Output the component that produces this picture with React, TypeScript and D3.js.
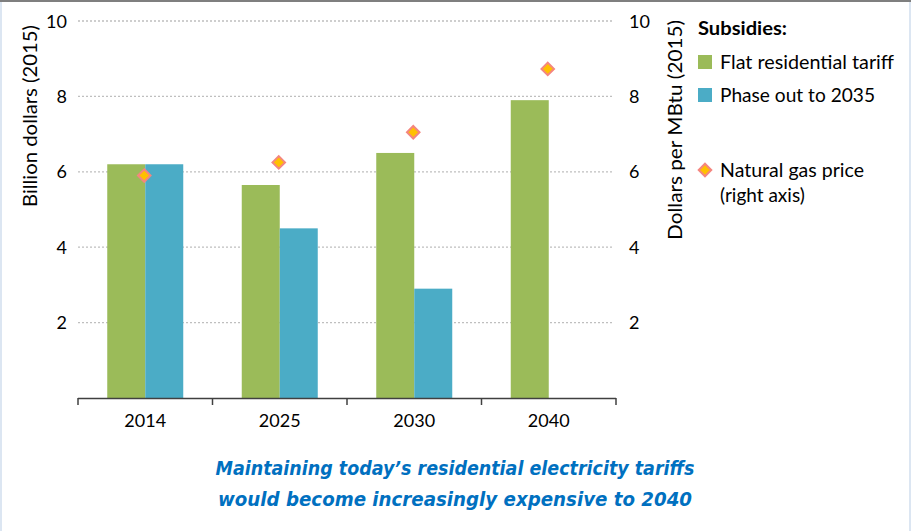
import React from "react";
import * as d3 from "d3";

const categories = ["2014", "2025", "2030", "2040"];
const flatTariff = [6.2, 5.65, 6.5, 7.9];
const phaseOut: (number | null)[] = [6.2, 4.5, 2.9, null];
const gasPrice = [5.9, 6.25, 7.05, 8.73];
const leftTicks = [2, 4, 6, 8, 10];
const rightTicks = [2, 4, 6, 8, 10];
const captionLines = [
  "Maintaining today\u2019s residential electricity tariffs",
  "would become increasingly expensive to 2040",
];

const W = 911;
const H = 531;
const GREEN = "#9bbb59";
const BLUE = "#4bacc6";
const FONT = "Lato, 'Open Sans', sans-serif";

export default function App() {
  const x = d3.scaleBand<string>().domain(categories).range([78, 616]).paddingInner(0).paddingOuter(0);
  const yL = d3.scaleLinear().domain([0, 10]).range([398, 21]);
  const yR = d3.scaleLinear().domain([0, 10]).range([398, 21]);
  const barW = 38;
  const diamond = d3.symbol().type(d3.symbolDiamond2).size(100)();

  return (
    <svg width={W} height={H} style={{ position: "absolute", left: 0, top: 0, background: "#fff" }}>
      <rect x={0} y={0} width={W} height={H} fill="#fff" />
      <rect x={0} y={0} width={2} height={H} fill="#dce6f2" />
      <rect x={W - 2} y={0} width={2} height={H} fill="#dce6f2" />
      <rect x={0} y={0} width={W} height={2} fill="#7f7f7f" />

      {/* gridlines */}
      {leftTicks.map((t) => (
        <line key={"g" + t} x1={78} x2={614} y1={yL(t)} y2={yL(t)} stroke="#bfbfbf" strokeWidth={1.3} strokeDasharray="2,2" />
      ))}

      {/* bars */}
      {categories.map((c, i) => {
        const cx = (x(c) as number) + x.bandwidth() / 2;
        return (
          <g key={"b" + c}>
            <rect x={cx - barW} y={yL(flatTariff[i])} width={barW} height={yL(0) - yL(flatTariff[i])} fill={GREEN} />
            {phaseOut[i] != null && (
              <rect x={cx} y={yL(phaseOut[i] as number)} width={barW} height={yL(0) - yL(phaseOut[i] as number)} fill={BLUE} />
            )}
          </g>
        );
      })}

      {/* diamonds */}
      {categories.map((c, i) => {
        const cx = (x(c) as number) + x.bandwidth() / 2 - 1;
        return (
          <path key={"d" + c} d={diamond as string} transform={`translate(${cx},${yR(gasPrice[i])})`} fill="#ffc000" stroke="#f4867f" strokeWidth={2} />
        );
      })}

      {/* x axis */}
      <line x1={78} x2={616} y1={398.5} y2={398.5} stroke="#404040" strokeWidth={1.5} />
      {[...categories.map((c) => x(c) as number), 616].map((t, i) => (
        <line key={"t" + i} x1={t} x2={t} y1={398} y2={405} stroke="#404040" strokeWidth={1.5} />
      ))}
      {categories.map((c) => (
        <text key={"xl" + c} x={(x(c) as number) + x.bandwidth() / 2} y={427} textAnchor="middle" fontSize={18} fontFamily={FONT} fill="#000">
          {c}
        </text>
      ))}

      {/* left ticks */}
      {leftTicks.map((t) => (
        <text key={"l" + t} x={67} y={yL(t) + 6.5} textAnchor="end" fontSize={18} fontFamily={FONT} fill="#000">
          {t}
        </text>
      ))}
      <text transform={`translate(37,116) rotate(-90)`} textAnchor="middle" fontSize={19} fontFamily={FONT} fill="#000" textLength={182} lengthAdjust="spacingAndGlyphs">
        Billion dollars (2015)
      </text>

      {/* right ticks */}
      {rightTicks.map((t) => (
        <text key={"r" + t} x={629} y={yR(t) + 6.5} textAnchor="start" fontSize={18} fontFamily={FONT} fill="#000">
          {t}
        </text>
      ))}
      <text transform={`translate(682,130) rotate(-90)`} textAnchor="middle" fontSize={19} fontFamily={FONT} fill="#000" textLength={220} lengthAdjust="spacingAndGlyphs">
        Dollars per MBtu (2015)
      </text>

      {/* legend */}
      <text x={698} y={35} fontSize={19} fontWeight="bold" fontFamily={FONT} fill="#000" textLength={89} lengthAdjust="spacingAndGlyphs">Subsidies:</text>
      <rect x={698} y={55} width={14} height={14} fill={GREEN} />
      <text x={720} y={69} fontSize={19} fontFamily={FONT} fill="#000" textLength={174} lengthAdjust="spacingAndGlyphs">Flat residential tariff</text>
      <rect x={698} y={88} width={14} height={14} fill={BLUE} />
      <text x={720} y={102} fontSize={19} fontFamily={FONT} fill="#000" textLength={155} lengthAdjust="spacingAndGlyphs">Phase out to 2035</text>
      <path d={diamond as string} transform="translate(705,170)" fill="#ffc000" stroke="#f4867f" strokeWidth={2} />
      <text x={720} y={177} fontSize={19} fontFamily={FONT} fill="#000" textLength={144} lengthAdjust="spacingAndGlyphs">Natural gas price</text>
      <text x={720} y={202} fontSize={19} fontFamily={FONT} fill="#000">(right axis)</text>

      {/* caption */}
      {captionLines.map((l, i) => (
        <text key={"c" + i} x={455} y={475 + i * 31} textAnchor="middle" fontSize={19} fontWeight="bold" fontStyle="italic" fontFamily="'DejaVu Sans', sans-serif" fill="#0070c0" textLength={i === 0 ? 479 : 474} lengthAdjust="spacingAndGlyphs">
          {l}
        </text>
      ))}
    </svg>
  );
}
